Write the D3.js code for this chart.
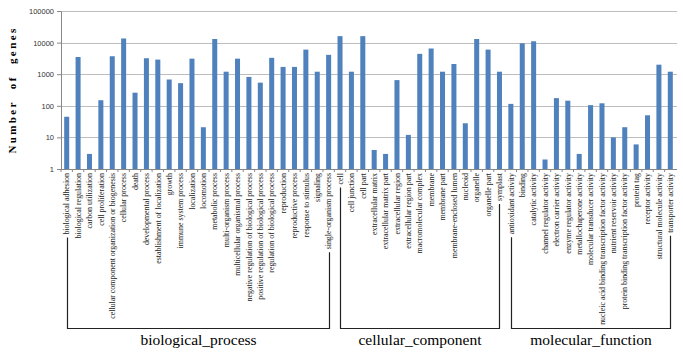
<!DOCTYPE html>
<html lang="en">
<head>
<meta charset="UTF-8">
<title>GO annotation</title>
<script src="https://d3js.org/d3.v7.min.js"></script>
<style>
    body { margin: 0; background: #fff; }
    .tick-y { font-family: "Liberation Sans", Arial, sans-serif; font-size: 7.5px; fill: #333; }
</style>
</head>
<body>
<svg id="chart" width="683" height="352"></svg>
<script>
    const bioTerms = ["biological adhesion", "biological regulation", "carbon utilization", "cell proliferation",
        "cellular component organization or biogenesis", "cellular process", "death", "developmental process",
        "establishment of localization", "growth", "immune system process", "localization", "locomotion",
        "metabolic process", "multi-organism process", "multicellular organismal process",
        "negative regulation of biological process", "positive regulation of biological process",
        "regulation of biological process", "reproduction", "reproductive process", "response to stimulus",
        "signaling", "single-organism process"];
    const bioCounts = [45, 3500, 3, 150, 3700, 13500, 260, 3200, 2900, 680, 520, 3100, 21, 13000, 1200, 3100,
        820, 540, 3300, 1700, 1700, 6000, 1200, 4100];

    const ccTerms = ["cell", "cell junction", "cell part", "extracellular matrix", "extracellular matrix part",
        "extracellular region", "extracellular region part", "macromolecular complex", "membrane", "membrane part",
        "membrane-enclosed lumen", "nucleoid", "organelle", "organelle part", "symplast"];
    const ccCounts = [16000, 1200, 16000, 4, 3, 650, 12, 4400, 6500, 1200, 2100, 28, 13000, 6000, 1200];

    const mfTerms = ["antioxidant activity", "binding", "catalytic activity", "channel regulator activity",
        "electron carrier activity", "enzyme regulator activity", "metallochaperone activity",
        "molecular transducer activity", "nucleic acid binding transcription factor activity",
        "nutrient reservoir activity", "protein binding transcription factor activity", "protein tag",
        "receptor activity", "structural molecule activity", "transporter activity"];
    const mfCounts = [115, 9500, 11000, 2, 175, 145, 3, 105, 120, 10, 21, 6, 50, 2000, 1200];

    const yTicks = [1, 10, 100, 1000, 10000, 100000];
    const groups = [
        { name: "biological_process", terms: bioTerms, counts: bioCounts },
        { name: "cellular_component", terms: ccTerms, counts: ccCounts },
        { name: "molecular_function", terms: mfTerms, counts: mfCounts }
    ];

    const serif = "'Liberation Serif', 'Times New Roman', 'DejaVu Serif', serif";

    // flatten into one row per bar
    const data = [];
    groups.forEach((g, gi) => g.terms.forEach((t, i) => data.push({ key: gi + "|" + t, term: t, value: g.counts[i], group: gi })));

    const svg = d3.select("#chart");
    const plotLeft = 61, plotRight = 676, plotTop = 11, plotBottom = 169;

    const x = d3.scaleBand()
        .domain(data.map(d => d.key))
        .range([plotLeft, plotRight])
        .paddingInner(0.56)
        .paddingOuter(0.28);

    const y = d3.scaleLog()
        .domain([1, 100000])
        .range([plotBottom, plotTop]);

    // gridlines
    svg.append("g")
        .selectAll("line")
        .data(yTicks.slice(1))
        .join("line")
        .attr("x1", plotLeft).attr("x2", plotRight + 1)
        .attr("y1", d => Math.round(y(d)) + 0.5).attr("y2", d => Math.round(y(d)) + 0.5)
        .attr("stroke", "#bdbdbd")
        .attr("stroke-width", 1);

    // bars
    svg.append("g")
        .selectAll("rect")
        .data(data)
        .join("rect")
        .attr("x", d => x(d.key))
        .attr("width", x.bandwidth())
        .attr("y", d => y(d.value))
        .attr("height", d => y(1) - y(d.value))
        .attr("fill", "#4f81bd");

    // y axis
    const yAxis = svg.append("g")
        .attr("transform", `translate(${plotLeft},0)`)
        .call(d3.axisLeft(y).tickValues(yTicks).tickFormat(d3.format("d")).tickSize(4).tickPadding(3));
    yAxis.select(".domain").attr("stroke", "#888");
    yAxis.selectAll(".tick line").attr("stroke", "#888");
    yAxis.selectAll("text").attr("class", "tick-y").attr("font-family", null).attr("font-size", null);

    // x axis baseline with ticks between bars
    svg.append("line")
        .attr("x1", plotLeft).attr("x2", plotRight + 1)
        .attr("y1", plotBottom + 0.5).attr("y2", plotBottom + 0.5)
        .attr("stroke", "#888");
    svg.append("g")
        .selectAll("line")
        .data(data)
        .join("line")
        .attr("x1", d => x(d.key) - x.step() * x.paddingInner() / 2)
        .attr("x2", d => x(d.key) - x.step() * x.paddingInner() / 2)
        .attr("y1", plotBottom).attr("y2", plotBottom + 3)
        .attr("stroke", "#888");

    // x labels, rotated
    const labels = svg.append("g")
        .selectAll("text")
        .data(data)
        .join("text")
        .attr("font-family", serif)
        .attr("font-size", 7.9)
        .attr("fill", "#222")
        .attr("text-anchor", "end")
        .attr("transform", d => `translate(${x(d.key) + x.bandwidth() / 2 + 2.7},${plotBottom + 4}) rotate(-90)`)
        .text(d => d.term);

    const lens = {};
    labels.each(function(d) { lens[d.key] = this.getComputedTextLength(); });

    // group brackets
    const bracketY = 328.5;
    groups.forEach((g, gi) => {
        const first = data.find(d => d.group === gi);
        const last = data.filter(d => d.group === gi).pop();
        const x1 = Math.round(x(first.key) + x.bandwidth() / 2) + 0.5;
        const x2 = Math.round(x(last.key) + x.bandwidth() / 2) + 0.5;
        const path = d3.path();
        path.moveTo(x1, plotBottom + 4 + lens[first.key] + 3);
        path.lineTo(x1, bracketY);
        path.lineTo(x2, bracketY);
        path.lineTo(x2, plotBottom + 4 + lens[last.key] + 3);
        svg.append("path")
            .attr("d", path.toString())
            .attr("fill", "none")
            .attr("stroke", "#222")
            .attr("stroke-width", 1.2);
        svg.append("text")
            .attr("font-family", serif)
            .attr("font-size", 15.5)
            .attr("fill", "#000")
            .attr("x", (x1 + x2) / 2)
            .attr("y", 345)
            .attr("text-anchor", "middle")
            .text(g.name);
    });

    // y axis title
    svg.append("text")
        .attr("transform", `translate(16,90) rotate(-90)`)
        .attr("text-anchor", "middle")
        .attr("font-family", serif)
        .attr("font-weight", "bold")
        .attr("font-size", 11)
        .attr("letter-spacing", 2.4)
        .attr("word-spacing", 6)
        .text("Number of genes");
</script>
</body>
</html>
